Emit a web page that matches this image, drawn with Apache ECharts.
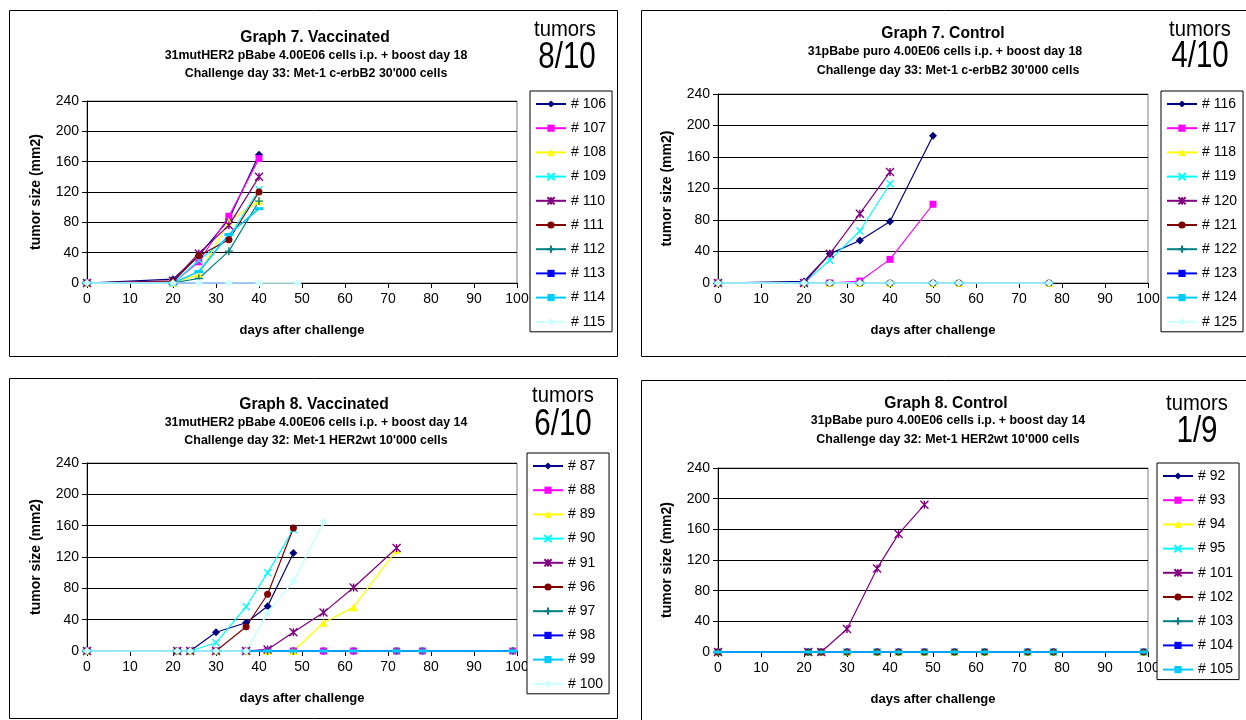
<!DOCTYPE html>
<html>
<head>
<meta charset="utf-8">
<script src="https://cdn.jsdelivr.net/npm/echarts/dist/echarts.min.js"></script>
<style>
html, body { margin: 0; padding: 0; background: #fff; }
#chart { width: 1246px; height: 720px; }
</style>
</head>
<body>
<div id="chart"></div>
<script>
// days after challenge, one list per graph
const daysG7V = [0, 20, 26, 33, 40, 49];
const daysG7C = [0, 20, 26, 33, 40, 50, 56, 77];
const daysG8V = [0, 21, 24, 30, 37, 42, 48, 55, 62, 72, 78, 99];
const daysG8C = [0, 21, 24, 30, 37, 42, 48, 55, 62, 72, 78, 99];

// mice
const miceG7V = ['# 106', '# 107', '# 108', '# 109', '# 110', '# 111', '# 112', '# 113', '# 114', '# 115'];
const miceG7C = ['# 116', '# 117', '# 118', '# 119', '# 120', '# 121', '# 122', '# 123', '# 124', '# 125'];
const miceG8V = ['# 87', '# 88', '# 89', '# 90', '# 91', '# 96', '# 97', '# 98', '# 99', '# 100'];
const miceG8C = ['# 92', '# 93', '# 94', '# 95', '# 101', '# 102', '# 103', '# 104', '# 105'];

// tumor size (mm2), null = not measured any more
const sizeG7V = [
  [0, 5, 36, 84, 169, null],
  [0, 0, 28, 88, 164, null],
  [0, 0, 11, 81, 108, null],
  [0, 0, 30, 61, 123, null],
  [0, 3, 39, 76, 140, null],
  [0, 2, 36, 57, 120, null],
  [0, 0, 6, 42, 108, null],
  [0, 0, 0, 0, 0, null],
  [0, 0, 15, 64, 98, null],
  [0, 0, 0, 0, 0, 0]
];
const sizeG7C = [
  [0, 2, 37, 54, 78, 187, null, null],
  [0, 0, 0, 2.5, 30, 100, null, null],
  [0, 0, 0, 0, 0, 0, 0, 0],
  [0, 0, 29, 66, 126, null, null, null],
  [0, 0, 37, 88, 141, null, null, null],
  [0, 0, 0, 0, 0, 0, 0, 0],
  [0, 0, 0, 0, 0, 0, 0, 0],
  [0, 0, 0, 0, 0, 0, 0, 0],
  [0, 0, 0, 0, 0, 0, 0, 0],
  [0, 0, 0, 0, 0, 0, 0, 0]
];
const sizeG8V = [
  [0, 0, 0, 24, 36, 57, 125, null, null, null, null, null],
  [0, 0, 0, 0, 0, 0, 0, 0, 0, 0, 0, 0],
  [0, 0, 0, 0, 0, 0, 0, 36, 56, 129, null, null],
  [0, 0, 0, 10.5, 56.5, 100, 155, null, null, null, null, null],
  [0, 0, 0, 0, 0, 2, 24, 49, 81, 131.5, null, null],
  [0, 0, 0, 0, 31, 72.5, 157, null, null, null, null, null],
  [0, 0, 0, 0, 0, 0, 0, 0, 0, 0, 0, 0],
  [0, 0, 0, 0, 0, 0, 0, 0, 0, 0, 0, 0],
  [0, 0, 0, 0, 0, 0, 0, 0, 0, 0, 0, 0],
  [0, 0, 0, 0, 0, 48.6, 89, 164.6, null, null, null, null]
];
const sizeG8C = [
  [0, 0, 0, 0, 0, 0, 0, 0, 0, 0, 0, 0],
  [0, 0, 0, 0, 0, 0, 0, 0, 0, 0, 0, 0],
  [0, 0, 0, 0, 0, 0, 0, 0, 0, 0, 0, 0],
  [0, 0, 0, 0, 0, 0, 0, 0, 0, 0, 0, 0],
  [0, 0, 0, 30, 109, 154, 192, null, null, null, null, null],
  [0, 0, 0, 0, 0, 0, 0, 0, 0, 0, 0, 0],
  [0, 0, 0, 0, 0, 0, 0, 0, 0, 0, 0, 0],
  [0, 0, 0, 0, 0, 0, 0, 0, 0, 0, 0, 0],
  [0, 0, 0, 0, 0, 0, 0, 0, 0, 0, 0, 0]
];

const FONT = '"Liberation Sans", Arial, sans-serif';

// excel style colours + markers, same order in every graph
const colors = ['#000080', '#FF00FF', '#FFFF00', '#00FFFF', '#800080', '#800000', '#008080', '#0000FF', '#00CCFF', '#CCFFFF'];
const markers = [
  { symbol: 'diamond', size: 8 },
  { symbol: 'rect', size: 7 },
  { symbol: 'triangle', size: 8 },
  { symbol: 'path://M0,0L10,10M10,0L0,10', size: 7, stroke: true },
  { symbol: 'path://M0,0L10,10M10,0L0,10M5,0L5,10', size: 8, stroke: true },
  { symbol: 'circle', size: 7 },
  { symbol: 'path://M5,0L5,10M0,5L10,5', size: 8, stroke: true },
  { symbol: 'rect', size: [6, 2] },
  { symbol: 'rect', size: [9, 3] },
  { symbol: 'diamond', size: 8 }
];

const panels = [
  { days: daysG7V, mice: miceG7V, sizes: sizeG7V,
    grid: { left: 87, top: 101, width: 430, height: 182 }, legend: { left: 530, top: 91 } },
  { days: daysG7C, mice: miceG7C, sizes: sizeG7C,
    grid: { left: 718, top: 94, width: 430, height: 189 }, legend: { left: 1161, top: 91 } },
  { days: daysG8V, mice: miceG8V, sizes: sizeG8V,
    grid: { left: 87, top: 463, width: 430, height: 188 }, legend: { left: 527, top: 453 } },
  { days: daysG8C, mice: miceG8C, sizes: sizeG8C,
    grid: { left: 718, top: 468, width: 430, height: 184 }, legend: { left: 1157, top: 463 } }
];

const grids = [], xAxes = [], yAxes = [], legends = [], series = [];

panels.forEach((p, i) => {
  grids.push(Object.assign({ show: true, borderColor: '#808080', borderWidth: 1, containLabel: false }, p.grid));
  xAxes.push({
    gridIndex: i, type: 'value', min: 0, max: 100, interval: 10,
    name: 'days after challenge', nameLocation: 'middle', nameGap: 41,
    nameTextStyle: { fontSize: 13, fontWeight: 'bold', fontFamily: FONT, color: '#000' },
    axisLine: { show: true, onZero: false, lineStyle: { color: '#000', width: 1 } },
    axisTick: { show: true, length: 5, lineStyle: { color: '#000' } },
    axisLabel: { fontSize: 14, color: '#000', fontFamily: FONT, margin: 9 },
    splitLine: { show: false }
  });
  yAxes.push({
    gridIndex: i, type: 'value', min: 0, max: 240, interval: 40,
    name: 'tumor size (mm2)', nameLocation: 'middle', nameGap: 44,
    nameTextStyle: { fontSize: 14, fontWeight: 'bold', fontFamily: FONT, color: '#000' },
    axisLine: { show: true, onZero: false, lineStyle: { color: '#000', width: 1 } },
    axisTick: { show: true, length: 5, lineStyle: { color: '#000' } },
    axisLabel: { fontSize: 14, color: '#000', fontFamily: FONT, margin: 8 },
    splitLine: { show: true, lineStyle: { color: '#000', width: 1 } }
  });
  legends.push({
    data: p.mice, orient: 'vertical', left: p.legend.left, top: p.legend.top,
    padding: [6, 6, 3, 5], itemGap: 10.2, itemWidth: 30, itemHeight: 9,
    backgroundColor: '#fff', borderColor: '#000', borderWidth: 1,
    selectedMode: false,
    textStyle: { fontSize: 14, lineHeight: 14, color: '#000', fontFamily: FONT }
  });
  p.mice.forEach((name, k) => {
    const c = colors[k];
    const m = markers[k];
    const data = [];
    p.sizes[k].forEach((v, d) => { if (v !== null) data.push([p.days[d], v]); });
    series.push({
      type: 'line', name: name, xAxisIndex: i, yAxisIndex: i, data: data,
      symbol: m.symbol, symbolSize: m.size, showSymbol: true, showAllSymbol: true,
      clip: false, color: c,
      lineStyle: { color: c, width: k >= 7 ? 1.6 : 1.2 },
      itemStyle: m.stroke ? { color: c, borderColor: c, borderWidth: 1.4 } : { color: c, borderWidth: 0 },
      emphasis: { disabled: true }
    });
  });
});

// titles and tumor counts
function txt(x, y, text, size, bold, sx) {
  return {
    type: 'text', x: x, y: y, scaleX: sx || 1, z: 10,
    style: {
      text: text, fontSize: size, fontWeight: bold ? 'bold' : 'normal', fontFamily: FONT, fill: '#000',
      align: 'center', verticalAlign: 'middle', textAlign: 'center', textVerticalAlign: 'middle'
    }
  };
}
const frame = (x, y, w, h) => ({ type: 'rect', z: -1, shape: { x: x, y: y, width: w, height: h }, style: { fill: '#fff', stroke: '#000', lineWidth: 1 } });

const graphics = [
  frame(9.5, 10.5, 608, 346),
  frame(641.5, 10.5, 620, 346),
  frame(9.5, 378.5, 608, 340),
  frame(641.5, 380.5, 620, 345),

  txt(315, 37, 'Graph 7. Vaccinated', 17, true, 0.92),
  txt(316, 56, '31mutHER2 pBabe 4.00E06 cells i.p. + boost day 18', 12.4, true),
  txt(316, 74, "Challenge day 33: Met-1 c-erbB2 30'000 cells", 12.4, true),
  txt(565, 30, 'tumors', 22, false, 0.92),
  txt(567, 58, '8/10', 36, false, 0.82),

  txt(943, 33, 'Graph 7. Control', 17, true, 0.92),
  txt(945, 52, '31pBabe puro 4.00E06 cells i.p. + boost day 18', 12.4, true),
  txt(948, 71, "Challenge day 33: Met-1 c-erbB2 30'000 cells", 12.4, true),
  txt(1200, 30, 'tumors', 22, false, 0.92),
  txt(1200, 57, '4/10', 36, false, 0.82),

  txt(314, 404, 'Graph 8. Vaccinated', 17, true, 0.92),
  txt(316, 423, '31mutHER2 pBabe 4.00E06 cells i.p. + boost day 14', 12.4, true),
  txt(316, 441, "Challenge day 32: Met-1 HER2wt 10'000 cells", 12.4, true),
  txt(563, 396, 'tumors', 22, false, 0.92),
  txt(563, 425, '6/10', 36, false, 0.82),

  txt(946, 403, 'Graph 8. Control', 17, true, 0.92),
  txt(948, 421, '31pBabe puro 4.00E06 cells i.p. + boost day 14', 12.4, true),
  txt(948, 440, "Challenge day 32: Met-1 HER2wt 10'000 cells", 12.4, true),
  txt(1197, 404, 'tumors', 22, false, 0.92),
  txt(1197, 432, '1/9', 36, false, 0.82)
];

const chart = echarts.init(document.getElementById('chart'), null, { renderer: 'canvas' });
chart.setOption({
  animation: false,
  backgroundColor: '#fff',
  graphic: graphics,
  grid: grids,
  xAxis: xAxes,
  yAxis: yAxes,
  legend: legends,
  tooltip: { show: false },
  series: series
});
</script>
</body>
</html>
